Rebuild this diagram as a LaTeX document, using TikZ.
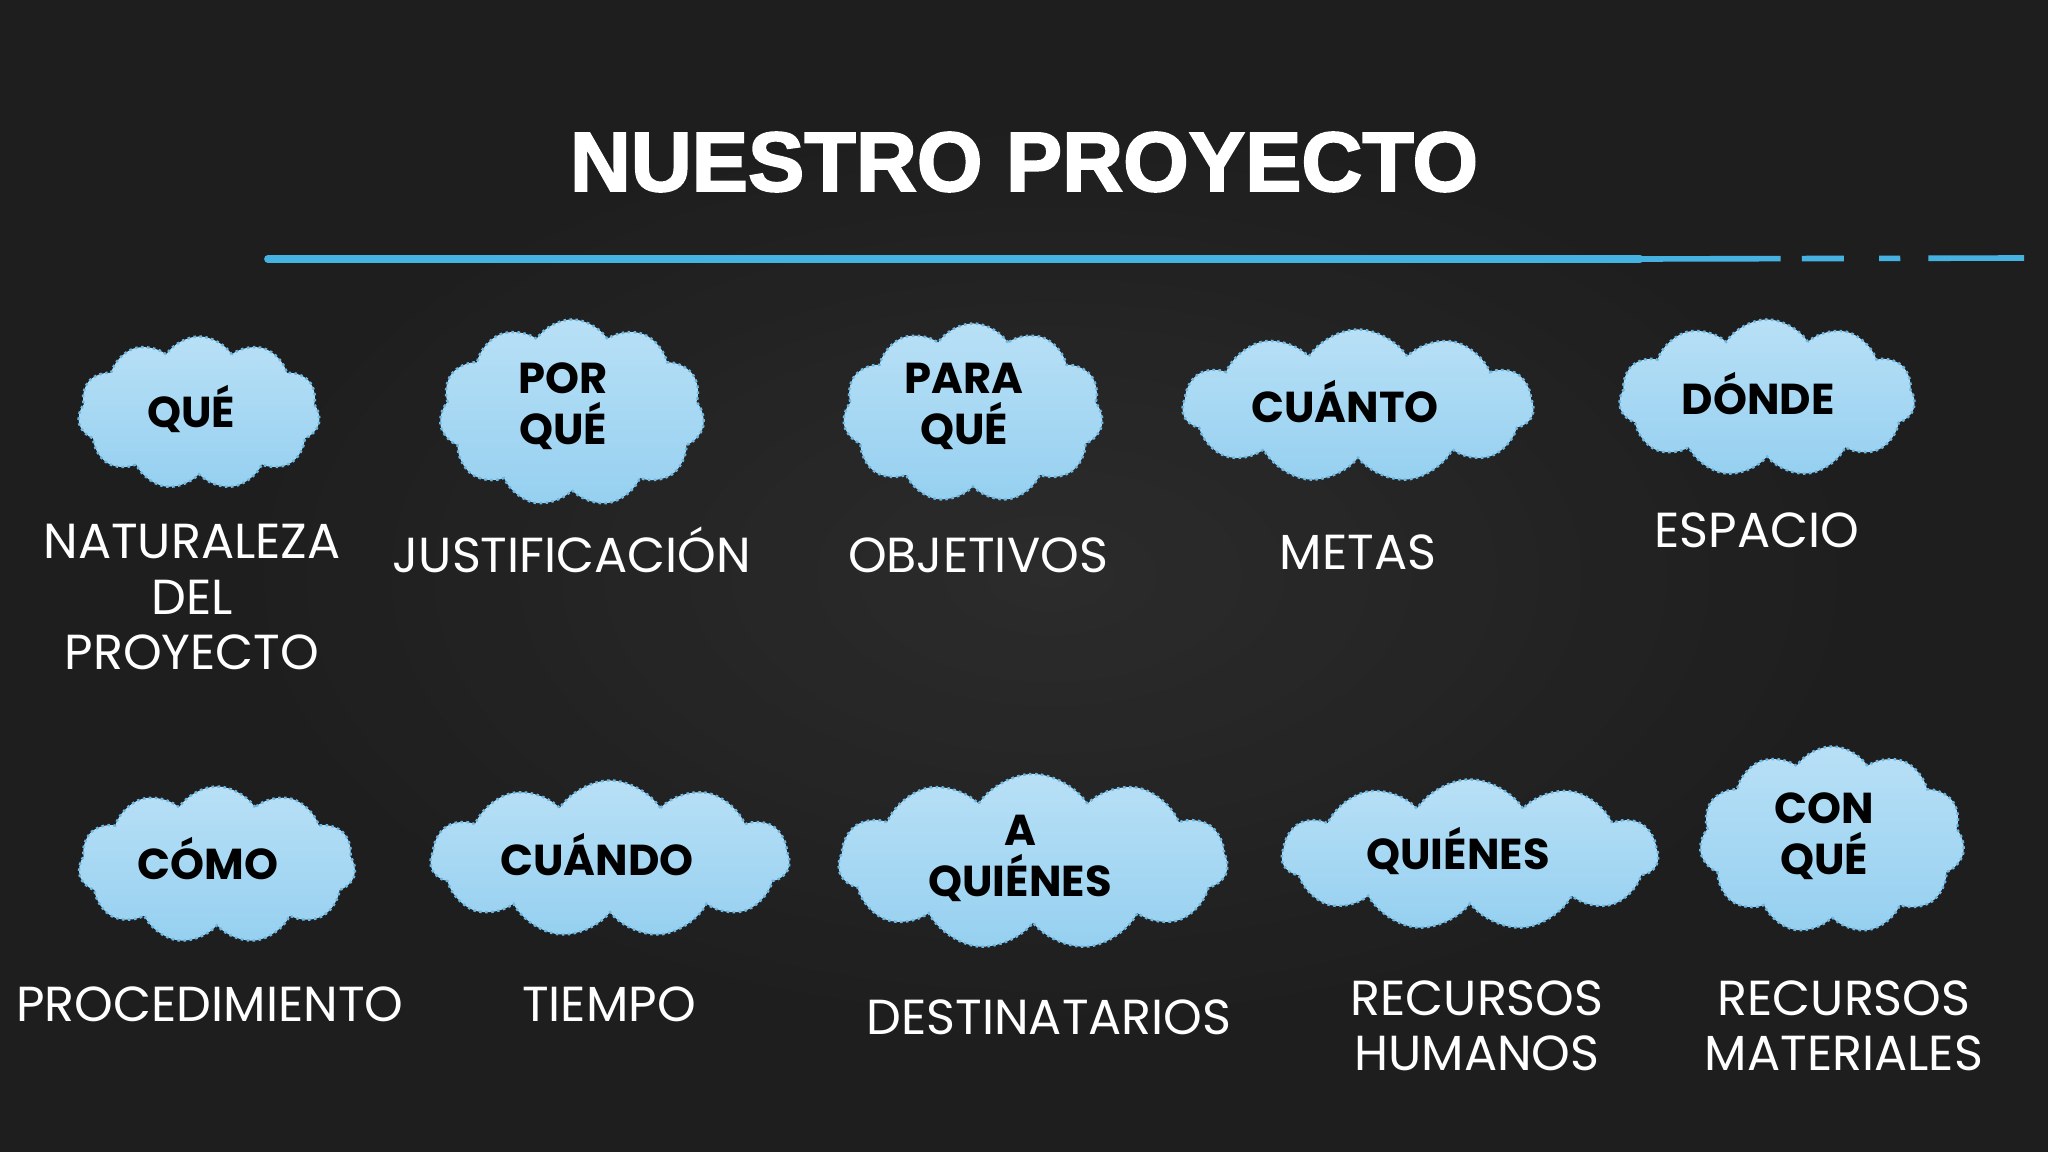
\documentclass[tikz,border=0pt]{standalone}
\usepackage{fontspec}
\setmainfont{Poppins}
\newfontfamily\titlefont[BoldFeatures={FakeBold=2.2}]{Liberation Sans}
\newfontfamily\lblfont{Poppins}
\newfontfamily\cloudfont{Poppins}
\usetikzlibrary{shapes.symbols,calc}
\definecolor{board}{RGB}{30,30,30}
\definecolor{boardlight}{RGB}{50,50,50}
\definecolor{chalkblue}{RGB}{70,178,226}
\definecolor{cloudtop}{RGB}{184,224,246}
\definecolor{cloudbot}{RGB}{150,208,240}
\definecolor{cloudedge}{RGB}{110,185,228}
\tikzset{
  cloudbox/.style={cloud, cloud puffs=11, cloud puff arc=115, draw=cloudedge,
    densely dotted, line width=0.7pt, top color=cloudtop, bottom color=cloudbot,
    inner sep=0pt},
  cloudtxt/.style={font=\cloudfont\bfseries\fontsize{12.3}{14.5}\selectfont, text=black, align=center},
  lbl/.style={font=\lblfont\fontsize{14}{15.8}\selectfont, text=white, align=center},
}
\begin{document}
\begin{tikzpicture}[x=0.01cm,y=-0.01cm]
\useasboundingbox (0,0) rectangle (2048,1152);
\fill[board] (0,0) rectangle (2048,1152);
\shade[inner color=boardlight, outer color=board, opacity=0.7] (200,100) rectangle (1900,1050);
% title
\node[font=\titlefont\bfseries\fontsize{24}{28}\selectfont, text=white] (title) at (1024,162) {NUESTRO PROYECTO};
% chalk line
\coordinate (la) at (268,259);
\coordinate (lb) at (1640,259);
\coordinate (lc) at (2024,258);
\draw[chalkblue, line width=2.2pt, line cap=round] (la) -- (lb);
\draw[chalkblue, line width=1.6pt, dash pattern=on 40pt off 6pt on 12pt off 10pt on 6pt off 8pt] (lb) -- (lc);
% clouds row 1
\node[cloudbox, minimum width=2.42cm, minimum height=1.53cm, aspect=1.6] (c1) at (199,413) {};
\node[cloudbox, minimum width=2.65cm, minimum height=1.87cm, aspect=1.4] (c2) at (572,413) {};
\node[cloudbox, minimum width=2.60cm, minimum height=1.79cm, aspect=1.45] (c3) at (973,413) {};
\node[cloudbox, minimum width=3.51cm, minimum height=1.53cm, aspect=2.3] (c4) at (1358,406) {};
\node[cloudbox, minimum width=2.96cm, minimum height=1.57cm, aspect=1.9] (c5) at (1767,398) {};
% clouds row 2
\node[cloudbox, minimum width=2.77cm, minimum height=1.57cm, aspect=1.75] (c6) at (217,865) {};
\node[cloudbox, minimum width=3.59cm, minimum height=1.57cm, aspect=2.3] (c7) at (610,859) {};
\node[cloudbox, minimum width=3.89cm, minimum height=1.76cm, aspect=2.2] (c8) at (1033,862) {};
\node[cloudbox, minimum width=3.76cm, minimum height=1.51cm, aspect=2.5] (c9) at (1470,855) {};
\node[cloudbox, minimum width=2.65cm, minimum height=1.87cm, aspect=1.4] (c10) at (1832,840) {};
% cloud texts
\node[cloudtxt] (t1) at ($(c1)+(-8,-4)$) {QUÉ};
\node[cloudtxt] (t2) at ($(c2)+(-9,-7)$) {POR\\QUÉ};
\node[cloudtxt] (t3) at ($(c3)+(-9,-7)$) {PARA\\QUÉ};
\node[cloudtxt] (t4) at ($(c4)+(-13,-4)$) {CUÁNTO};
\node[cloudtxt] (t5) at ($(c5)+(-9,-4)$) {DÓNDE};
\node[cloudtxt] (t6) at ($(c6)+(-9,-6)$) {CÓMO};
\node[cloudtxt] (t7) at ($(c7)+(-13,-4)$) {CUÁNDO};
\node[cloudtxt] (t8) at ($(c8)+(-13,-4)$) {A\\QUIÉNES};
\node[cloudtxt] (t9) at ($(c9)+(-12,-4)$) {QUIÉNES};
\node[cloudtxt] (t10) at ($(c10)+(-8,-4)$) {CON\\QUÉ};
% labels
\node[lbl] (l1) at (192,597) {NATURALEZA\\DEL\\PROYECTO};
\node[lbl] (l2) at (572,550) {JUSTIFICACIÓN};
\node[lbl] (l3) at (978,555) {OBJETIVOS};
\node[lbl] (l4) at (1358,552) {METAS};
\node[lbl] (l5) at (1757,530) {ESPACIO};
\node[lbl] (l6) at (210,1004) {PROCEDIMIENTO};
\node[lbl] (l7) at (609,1004) {TIEMPO};
\node[lbl] (l8) at (1049,1017) {DESTINATARIOS};
\node[lbl] (l9) at (1477,1026) {RECURSOS\\HUMANOS};
\node[lbl] (l10) at (1844,1026) {RECURSOS\\MATERIALES};
\end{tikzpicture}
\end{document}
